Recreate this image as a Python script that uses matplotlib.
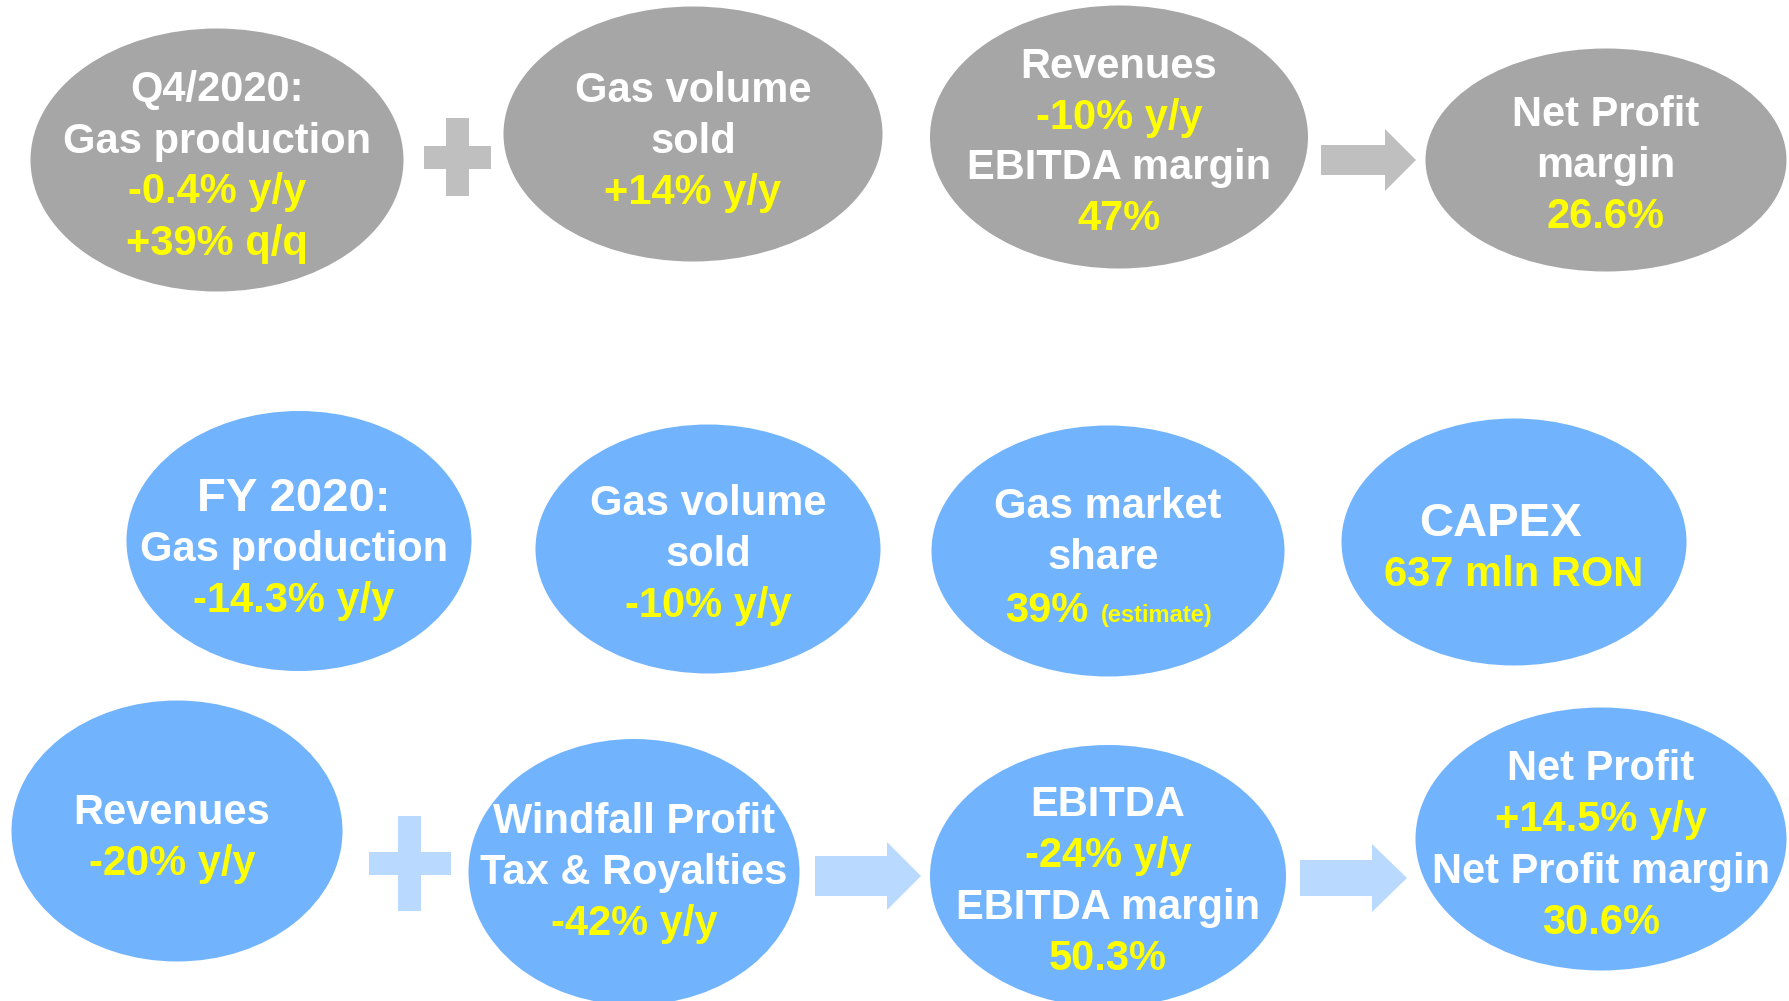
import matplotlib.pyplot as plt
from matplotlib.patches import Ellipse, Rectangle, Polygon

plt.rcParams['font.family'] = ['Liberation Sans', 'DejaVu Sans']

WHITE = "#FFFFFF"
YELLOW = "#FFFF00"

# bubble texts: list of (line, colour)
q4_production = [("Q4/2020:", WHITE), ("Gas production", WHITE), ("-0.4% y/y", YELLOW), ("+39% q/q", YELLOW)]
q4_volume = [("Gas volume", WHITE), ("sold", WHITE), ("+14% y/y", YELLOW)]
q4_revenues = [("Revenues", WHITE), ("-10% y/y", YELLOW), ("EBITDA margin", WHITE), ("47%", YELLOW)]
q4_netprofit = [("Net Profit", WHITE), ("margin", WHITE), ("26.6%", YELLOW)]

fy_production = [("FY 2020:", WHITE), ("Gas production", WHITE), ("-14.3% y/y", YELLOW)]
fy_volume = [("Gas volume", WHITE), ("sold", WHITE), ("-10% y/y", YELLOW)]
fy_share = [("Gas market", WHITE), ("share", WHITE)]
fy_share_value = "39%"
fy_share_note = "(estimate)"
fy_capex = [("CAPEX", WHITE), ("637 mln RON", YELLOW)]

fy_revenues = [("Revenues", WHITE), ("-20% y/y", YELLOW)]
fy_windfall = [("Windfall Profit", WHITE), ("Tax & Royalties", WHITE), ("-42% y/y", YELLOW)]
fy_ebitda = [("EBITDA", WHITE), ("-24% y/y", YELLOW), ("EBITDA margin", WHITE), ("50.3%", YELLOW)]
fy_netprofit = [("Net Profit", WHITE), ("+14.5% y/y", YELLOW), ("Net Profit margin", WHITE), ("30.6%", YELLOW)]

# layout (pixels): centre x, centre y, width, height, text centre x, text centre y, colour
GRAY = "#A6A6A6"
GRAY_L = "#BFBFBF"
BLUE = "#71B4FD"
BLUE_L = "#B9DAFE"

bubbles = [
    (q4_production, 217, 160, 373, 263, 217, 167, GRAY),
    (q4_volume, 693, 134, 379, 255, 693, 142, GRAY),
    (q4_revenues, 1119, 137, 378, 263, 1119, 143, GRAY),
    (q4_netprofit, 1606, 160, 361, 223, 1606, 166, GRAY),
    (fy_production, 299, 541, 345, 260, 294, 550, BLUE),
    (fy_volume, 708, 549, 345, 249, 708, 555, BLUE),
    (fy_share, 1108, 551, 353, 251, 1108, 558, BLUE),
    (fy_capex, 1514, 542, 345, 247, 1514, 550, BLUE),
    (fy_revenues, 177, 831, 331, 261, 172, 839, BLUE),
    (fy_windfall, 634, 872, 331, 266, 634, 873, BLUE),
    (fy_ebitda, 1108, 876, 356, 262, 1108, 882, BLUE),
    (fy_netprofit, 1601, 839, 371, 263, 1601, 846, BLUE),
]

# plus signs: centre x, centre y, arm length, thickness, vertical length, colour
pluses = [(458, 157, 67, 23, 78, GRAY_L), (410, 863, 82, 23, 95, BLUE_L)]
# arrows: x start, x head, x tip, y centre, shaft half, head half, colour
arrows = [(1321, 1385, 1416, 160, 15, 31, GRAY_L),
          (815, 887, 921, 876, 20, 34, BLUE_L),
          (1300, 1372, 1407, 878, 18, 34, BLUE_L)]

fig = plt.figure(figsize=(17.9, 10.01), dpi=100)
ax = fig.add_axes([0, 0, 1, 1])
ax.set_xlim(0, 1790)
ax.set_ylim(1001, 0)
ax.axis("off")

LINE = 51
for lines, cx, cy, w, h, tx, ty, col in bubbles:
    ax.add_patch(Ellipse((cx, cy), w, h, facecolor=col, edgecolor="none"))
    n = len(lines)
    if lines is fy_share:
        n = 3
    y0 = ty - (n - 1) * LINE / 2
    for i, (txt, c) in enumerate(lines):
        fs = 30
        dx = 0
        if txt in ("FY 2020:", "CAPEX"):
            fs = 34
        if txt == "share":
            dx = -5
        if txt == "CAPEX":
            dx = -14
        ax.text(tx + dx, y0 + i * LINE, txt, color=c, fontsize=fs, fontweight="bold",
                ha="center", va="center")
    if lines is fy_share:
        yb = y0 + 2 * LINE + 13
        ax.text(tx - 20, yb, fy_share_value, color=YELLOW, fontsize=30, fontweight="bold",
                ha="right", va="baseline")
        ax.text(tx - 7, yb, fy_share_note, color=YELLOW, fontsize=17, fontweight="bold",
                ha="left", va="baseline")

for cx, cy, arm, th, vlen, col in pluses:
    ax.add_patch(Rectangle((cx - arm / 2, cy - th / 2), arm, th, facecolor=col, edgecolor="none"))
    ax.add_patch(Rectangle((cx - th / 2, cy - vlen / 2), th, vlen, facecolor=col, edgecolor="none"))

for x0, xh, xt, yc, s, hh, col in arrows:
    pts = [(x0, yc - s), (xh, yc - s), (xh, yc - hh), (xt, yc), (xh, yc + hh), (xh, yc + s), (x0, yc + s)]
    ax.add_patch(Polygon(pts, closed=True, facecolor=col, edgecolor="none"))

fig.savefig("out.png", dpi=100)
